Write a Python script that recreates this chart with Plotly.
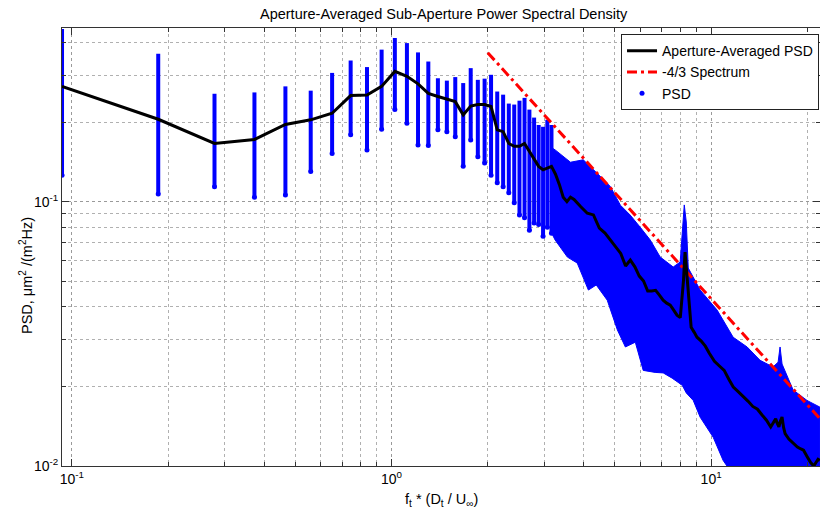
import plotly.graph_objects as go

# ---------------- data ----------------
df = 0.0931  # frequency bin width (normalised)

# discrete PSD columns, bins k = 1..34 (upper / lower extent of the point spread)
col_k = list(range(1, 35))
col_hi = [0.45, 0.363, 0.256, 0.259, 0.273, 0.263, 0.307, 0.342, 0.323, 0.376,
          0.416, 0.398, 0.367, 0.339, 0.293, 0.287, 0.296, 0.281, 0.320, 0.289,
          0.292, 0.302, 0.261, 0.254, 0.235, 0.233, 0.241, 0.247, 0.223, 0.208,
          0.195, 0.192, 0.204, 0.195]
col_lo = [0.126, 0.107, 0.114, 0.104, 0.106, 0.130, 0.152, 0.179, 0.157, 0.188,
          0.223, 0.198, 0.164, 0.163, 0.187, 0.184, 0.176, 0.136, 0.171, 0.148,
          0.140, 0.126, 0.118, 0.114, 0.108, 0.099, 0.089, 0.087, 0.078, 0.083,
          0.082, 0.074, 0.080, 0.076]

# dense PSD cloud envelope at higher frequencies
cloud_up_f = [3.17, 3.25, 3.63, 3.98, 4.40, 4.84, 5.20, 5.58, 6.00, 6.45, 6.93,
              7.61, 8.00, 8.12, 8.24, 8.36, 8.48, 9.24, 10.44, 11.72, 12.96,
              14.23, 15.62, 16.20, 16.43, 16.67, 18.05, 19.95, 21.9]
cloud_up_v = [0.160, 0.157, 0.141, 0.144, 0.128, 0.114, 0.097, 0.089, 0.080,
              0.0716, 0.0617, 0.0566, 0.0591, 0.0781, 0.0972, 0.0838, 0.0561,
              0.0463, 0.0389, 0.0307, 0.0282, 0.0251, 0.0237, 0.0247, 0.0282,
              0.0243, 0.0194, 0.0177, 0.0167]
cloud_lo_f = [3.17, 3.25, 3.55, 3.81, 4.13, 4.37, 4.73, 5.09, 5.39, 5.79, 6.13,
              6.68, 7.08, 7.55, 8.12, 8.36, 8.79, 9.24, 10.15, 10.90, 11.47, 21.9]
cloud_lo_v = [0.076, 0.0716, 0.0617, 0.0586, 0.0463, 0.0484, 0.0424, 0.0327,
              0.0282, 0.0294, 0.0230, 0.0226, 0.0225, 0.0215, 0.0202, 0.0189,
              0.0177, 0.0153, 0.01284, 0.0105, 0.0096, 0.008]

# aperture-averaged PSD (bin index, value)
avg_k = [1, 2, 3, 4, 5, 6, 7, 8, 9, 10, 11, 12, 13, 14, 15, 16, 17, 18, 19, 20,
         21, 22, 23, 24, 25, 26, 27, 28, 29, 30, 31, 32, 33, 34, 35, 36, 37, 38,
         39, 40, 42, 44, 46, 48, 50, 52, 54, 56, 58, 59, 60, 62, 64, 66, 68, 70,
         72, 74, 76, 78, 80, 82, 84, 86, 87, 88, 89, 90, 91, 92, 93, 95, 97, 100,
         103, 106, 110, 114, 118, 122, 126, 130, 135, 140, 145, 150, 155, 160,
         165, 168, 171, 173, 175, 177, 179, 181, 183, 188, 194, 200, 205, 209,
         215, 220, 225, 229, 232, 235]
avg_v = [0.273, 0.205, 0.166, 0.172, 0.196, 0.204, 0.216, 0.252, 0.253, 0.273,
         0.311, 0.298, 0.279, 0.257, 0.250, 0.245, 0.239, 0.213, 0.230, 0.233,
         0.233, 0.229, 0.187, 0.184, 0.166, 0.162, 0.162, 0.166, 0.155, 0.144,
         0.136, 0.132, 0.134, 0.136, 0.127, 0.116, 0.104, 0.100, 0.104, 0.102,
         0.0957, 0.0904, 0.0891, 0.0795, 0.0761, 0.0716, 0.0674, 0.0637, 0.0571,
         0.0586, 0.0601, 0.0567, 0.0523, 0.0501, 0.0459, 0.0459, 0.0462, 0.0443,
         0.0424, 0.0413, 0.0406, 0.0389, 0.0372, 0.0364, 0.0424, 0.0503, 0.0645,
         0.0535, 0.0460, 0.0380, 0.0335, 0.0321, 0.0307, 0.0297, 0.0284, 0.0267,
         0.0249, 0.0239, 0.0230, 0.0213, 0.0199, 0.0192, 0.0184, 0.0176, 0.0168,
         0.0164, 0.0156, 0.0149, 0.01405, 0.0146, 0.0151, 0.0145, 0.01405,
         0.0148, 0.01533, 0.0140, 0.01327, 0.01265, 0.01216, 0.0118, 0.0116,
         0.01147, 0.0108, 0.0103, 0.0100, 0.0104, 0.0106, 0.0105]

# -4/3 reference spectrum (end points)
spec_f = [2.0, 21.9]
spec_v = [0.366, 0.0151]

x_major = [0.1, 1, 10]
x_major_text = ["10<sup>-1</sup>", "10<sup>0</sup>", "10<sup>1</sup>"]
y_major = [0.01, 0.1]
y_major_text = ["10<sup>-2</sup>", "10<sup>-1</sup>"]
x_minor = [0.2, 0.3, 0.4, 0.5, 0.6, 0.7, 0.8, 0.9, 2, 3, 4, 5, 6, 7, 8, 9, 20]
y_minor = [0.02, 0.03, 0.04, 0.05, 0.06, 0.07, 0.08, 0.09, 0.2, 0.3, 0.4]

# ---------------- figure ----------------
BLUE = "#0000ff"
FONT = "Liberation Sans, Arial, Helvetica, sans-serif"

col_f = [k * df for k in col_k]
avg_f = [k * df for k in avg_k]

fig = go.Figure()

fig.add_trace(go.Scatter(
    x=cloud_up_f + cloud_lo_f[::-1], y=cloud_up_v + cloud_lo_v[::-1],
    mode="lines", fill="toself", fillcolor=BLUE,
    line=dict(color=BLUE, width=1), showlegend=False, hoverinfo="skip"))

fig.add_trace(go.Scatter(
    x=col_f, y=col_lo, mode="markers", name="PSD", legendrank=3,
    marker=dict(color=BLUE, size=5),
    error_y=dict(type="data", symmetric=False,
                 array=[h - l for h, l in zip(col_hi, col_lo)],
                 arrayminus=[0] * len(col_lo),
                 thickness=4, width=0, color=BLUE)))

fig.add_trace(go.Scatter(
    x=spec_f, y=spec_v, mode="lines", name="-4/3 Spectrum", legendrank=2,
    line=dict(color="#ff0000", width=3, dash="10px,4px,3px,4px")))

fig.add_trace(go.Scatter(
    x=avg_f, y=avg_v, mode="lines", name="Aperture-Averaged PSD", legendrank=1,
    line=dict(color="black", width=3)))

axis_common = dict(
    type="log", ticks="inside", ticklen=7, tickcolor="#333333",
    showline=True, linecolor="#333333", linewidth=1, mirror="allticks",
    showgrid=True, gridcolor="#9a9a9a", griddash="dot", gridwidth=1,
    zeroline=False, automargin=False,
    tickfont=dict(size=14, color="black", family=FONT),
)

fig.update_layout(
    width=820, height=510,
    margin=dict(l=62, r=0, t=28, b=44, autoexpand=False),
    paper_bgcolor="white", plot_bgcolor="white",
    font=dict(family=FONT, size=14, color="black"),
    title=dict(text="Aperture-Averaged Sub-Aperture Power Spectral Density",
               x=0.541, xanchor="center", y=0.973, yanchor="middle",
               font=dict(size=14.5, color="black", family=FONT)),
    xaxis=dict(axis_common, range=[-1.0311, 1.3406],
               tickvals=x_major, ticktext=x_major_text,
               minor=dict(tickvals=x_minor, ticks="inside", ticklen=4,
                          tickcolor="#333333", showgrid=True,
                          gridcolor="#b0b0b0", griddash="dot")),
    yaxis=dict(axis_common, range=[-2, -0.343],
               tickvals=y_major, ticktext=y_major_text,
               minor=dict(tickvals=y_minor, ticks="inside", ticklen=4,
                          tickcolor="#333333", showgrid=True,
                          gridcolor="#b0b0b0", griddash="dot")),
    legend=dict(x=0.7375, xanchor="left", y=0.986, yanchor="top",
                bgcolor="white", bordercolor="#222222", borderwidth=1,
                font=dict(size=14, color="black", family=FONT),
                tracegroupgap=0),
    annotations=[
        dict(text="f<sub>t</sub> * (D<sub>t</sub> / U<sub>∞</sub>)",
             xref="paper", yref="paper", x=0.5, y=-0.0776,
             xanchor="center", yanchor="middle", showarrow=False,
             font=dict(size=14.5, color="black", family=FONT)),
        dict(text="PSD, μm<sup>2</sup> /(m<sup>2</sup>Hz)",
             xref="paper", yref="paper", x=-0.0475, y=0.436,
             xanchor="center", yanchor="middle", textangle=-90,
             showarrow=False,
             font=dict(size=14.5, color="black", family=FONT)),
    ],
)

fig.write_html("out.html",
               config={"displayModeBar": False},
               post_script="document.body.style.margin='0';"
                           "document.body.style.overflow='hidden';")
